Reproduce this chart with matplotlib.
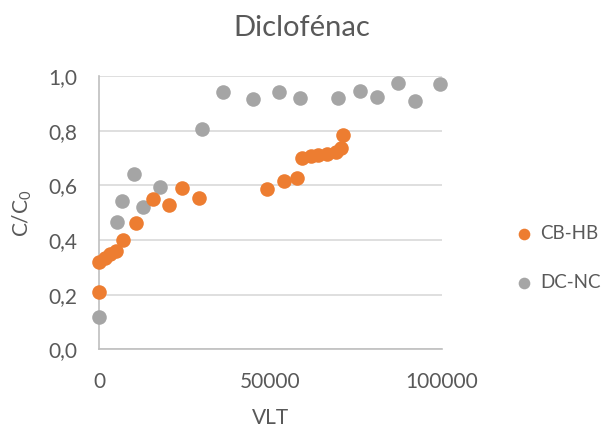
import matplotlib
matplotlib.use('Agg')
import matplotlib.pyplot as plt

plt.rcParams['font.family'] = ['Lato', 'DejaVu Sans']
plt.rcParams['mathtext.fontset'] = 'custom'
plt.rcParams['mathtext.rm'] = 'Lato'
plt.rcParams['mathtext.it'] = 'Lato'

# CB-HB series
cb_vlt = [0, 0, 1600, 3000, 5000, 7000, 10700, 15600, 20400, 24200, 29200,
          48900, 53800, 57800, 59200, 61700, 64000, 66400, 69000, 70700, 71300]
cb_c = [0.212, 0.32, 0.335, 0.348, 0.36, 0.40, 0.464, 0.549, 0.527, 0.592, 0.555,
        0.588, 0.616, 0.628, 0.70, 0.709, 0.713, 0.716, 0.724, 0.738, 0.785]

# DC-NC series
dc_vlt = [0, 5200, 6540, 10100, 12800, 17700, 30100, 36200, 45000, 52400,
          58600, 69800, 76100, 81000, 87100, 92200, 99600]
dc_c = [0.12, 0.465, 0.543, 0.64, 0.52, 0.596, 0.807, 0.943, 0.916, 0.94,
        0.919, 0.921, 0.945, 0.922, 0.976, 0.909, 0.97]

x_ticks = [0, 50000, 100000]
y_ticks = [0.0, 0.2, 0.4, 0.6, 0.8, 1.0]

txt = '#595959'
fig = plt.figure(figsize=(6.08, 4.32), dpi=100)
ax = fig.add_axes([0.1633, 0.191, 0.5632, 0.633])

ax.scatter(dc_vlt, dc_c, s=110, color='#A5A5A5', label='DC-NC', zorder=3, clip_on=False, linewidths=0)
ax.scatter(cb_vlt, cb_c, s=110, color='#ED7D31', label='CB-HB', zorder=4, clip_on=False, linewidths=0)

ax.set_xlim(0, 100000)
ax.set_ylim(0, 1.0)
ax.set_xticks(x_ticks)
ax.set_xticklabels([str(v) for v in x_ticks])
ax.set_yticks(y_ticks)
ax.set_yticklabels([('%.1f' % v).replace('.', ',') for v in y_ticks])
ax.tick_params(length=0, labelsize=15, colors=txt)
ax.tick_params(axis='x', pad=16)
ax.tick_params(axis='y', pad=16)
ax.yaxis.grid(True, color='#D9D9D9', linewidth=1.2)
ax.set_axisbelow(True)
for side in ['top', 'right']:
    ax.spines[side].set_visible(False)
for side in ['left', 'bottom']:
    ax.spines[side].set_color('#BFBFBF')
    ax.spines[side].set_linewidth(1.2)

ax.set_xlabel('VLT', fontsize=15, color=txt, labelpad=12)
ax.set_ylabel(r'C/C$_0$', fontsize=15, color=txt, labelpad=10)
fig.text(0.497, 0.935, 'Diclofénac', fontsize=21, color=txt, ha='center', va='center')

handles, labels = ax.get_legend_handles_labels()
leg = fig.legend(handles[::-1], labels[::-1], loc='center left', bbox_to_anchor=(0.815, 0.403),
                 frameon=False, fontsize=13.5, labelcolor=txt, handletextpad=0.3,
                 labelspacing=1.7, markerscale=0.8, handlelength=1.2)

fig.savefig('out.png', dpi=100)
